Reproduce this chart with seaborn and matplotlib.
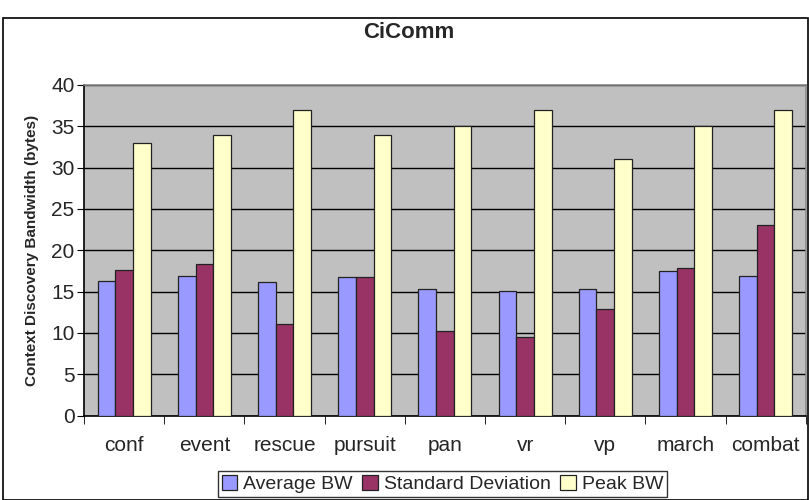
import pandas as pd
import matplotlib.pyplot as plt
import seaborn as sns
from matplotlib.patches import Rectangle

# Data
scenarios = ['conf', 'event', 'rescue', 'pursuit', 'pan', 'vr', 'vp', 'march', 'combat']
avg_bw = [16.3, 16.9, 16.2, 16.8, 15.3, 15.1, 15.3, 17.5, 16.9]
std_dev = [17.6, 18.3, 11.1, 16.8, 10.2, 9.5, 12.9, 17.9, 23.1]
peak_bw = [33, 34, 37, 34, 35, 37, 31, 35, 37]
series = ['Average BW', 'Standard Deviation', 'Peak BW']
colors = ['#9999FF', '#993366', '#FFFFCC']

df = pd.DataFrame({
    'scenario': scenarios * 3,
    'series': [series[0]] * 9 + [series[1]] * 9 + [series[2]] * 9,
    'value': avg_bw + std_dev + peak_bw,
})

sns.set_style('white')
plt.rcParams['font.family'] = ['Liberation Sans', 'DejaVu Sans']

fig = plt.figure(figsize=(8.09, 5), dpi=100)
ax = fig.add_axes([0.104, 0.169, 0.892, 0.661])

sns.barplot(data=df, x='scenario', y='value', hue='series', palette=colors, saturation=1,
            width=0.66, edgecolor='#222222', linewidth=0.9, ax=ax, zorder=3)

ax.set_facecolor('#C0C0C0')
ax.set_ylim(0, 40)
ax.set_xlim(-0.5, 8.5)
ax.set_yticks(range(0, 41, 5))
ax.grid(axis='y', color='black', linewidth=1, zorder=0)
ax.set_axisbelow(True)
ax.tick_params(axis='y', labelsize=15, length=5, color='black', direction='out', left=True, pad=2)
ax.set_xticks(range(9))
ax.set_xticklabels(scenarios)
ax.tick_params(axis='x', which='major', length=0, labelsize=15, pad=15)
ax.set_xticks([i - 0.5 for i in range(10)], minor=True)
ax.tick_params(axis='x', which='minor', length=6, color='black', direction='out', bottom=True)
for side in ['left', 'bottom']:
    ax.spines[side].set_color('black')
    ax.spines[side].set_linewidth(1.2)
for side in ['top', 'right']:
    ax.spines[side].set_color('#888888')
    ax.spines[side].set_linewidth(1.2)

ax.set_xlabel('')
ax.set_ylabel('Context Discovery Bandwidth (bytes)', fontsize=11, fontweight='bold', labelpad=9)
fig.text(0.505, 0.934, 'CiComm', ha='center', va='center', fontsize=16, fontweight='bold')

ax.legend_.remove()
handles = [Rectangle((0, 0), 1, 1, facecolor=c, edgecolor='#222222', linewidth=0.9) for c in colors]
fig.legend(handles, series, loc='center', bbox_to_anchor=(0.547, 0.032), ncol=3, fontsize=14,
           frameon=True, fancybox=False, edgecolor='black', handlelength=0.8, handleheight=0.8,
           handletextpad=0.3, columnspacing=0.5, borderpad=0.2, borderaxespad=0)

# outer chart border
fig.patches.append(Rectangle((0.004, 0.0), 0.995, 0.964, transform=fig.transFigure,
                             fill=False, edgecolor='black', linewidth=1.2))

fig.savefig('out.png', dpi=100)
